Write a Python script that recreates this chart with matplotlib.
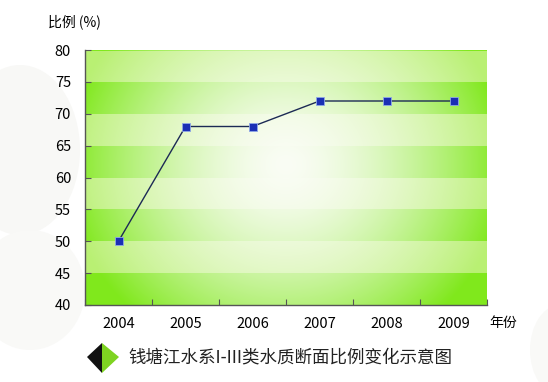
import numpy as np
import matplotlib.pyplot as plt
from matplotlib.patches import Polygon, Ellipse

plt.rcParams['font.family'] = ['Noto Sans CJK SC', 'DejaVu Sans']
plt.rcParams['font.size'] = 10

# data
years = ['2004', '2005', '2006', '2007', '2008', '2009']
ratio = [50, 68, 68, 72, 72, 72]
yticks = [40, 45, 50, 55, 60, 65, 70, 75, 80]
title = '钱塘江水系I-III类水质断面比例变化示意图'

fig = plt.figure(figsize=(5.48, 3.82), dpi=100)
fig.patch.set_facecolor('white')

# faint decorative blobs behind the chart
deco = fig.add_axes([0, 0, 1, 1], zorder=-5)
deco.set_xlim(0, 548)
deco.set_ylim(382, 0)
deco.axis('off')
deco.add_patch(Ellipse((20, 150), 120, 170, color='#f8f8f6', lw=0))
deco.add_patch(Ellipse((30, 290), 110, 120, color='#f9f9f7', lw=0))
deco.add_patch(Ellipse((560, 350), 60, 90, color='#f9f9f7', lw=0))

ax = fig.add_axes([85 / 548, 1 - 305 / 382, 402 / 548, 255 / 382])

# background: radial white glow over alternating green bands
ny, nx = 255, 402
yy, xx = np.mgrid[0:ny, 0:nx]
fx = xx / (nx - 1)
fy = 1 - yy / (ny - 1)
r = np.sqrt(((fx - 0.5) / 0.55) ** 2 + ((fy - 0.55) / 0.8) ** 2)
t = np.clip(r, 0, 1) ** 1.6
val = 40 + 40 * fy
band = (np.floor((val - 40) / 5).astype(int) % 2 == 0)
dark = np.array([128, 232, 28]) / 255
light = np.array([185, 240, 115]) / 255
edge = np.where(band[..., None], dark, light)
img = (1 - t[..., None]) * np.array([0.98, 0.99, 0.96]) + t[..., None] * edge
ax.imshow(img, extent=(-0.5, 5.5, 40, 80), aspect='auto', zorder=0,
          interpolation='bilinear')

x = np.arange(len(years))
ax.plot(x, ratio, color='#1c2a55', lw=1.0, zorder=2)
ax.plot(x, ratio, ls='none', marker='s', ms=6, mfc='#1b2fb5',
        mec='#8fa8e8', mew=0.6, zorder=3)

ax.set_xlim(-0.5, 5.5)
ax.set_ylim(40, 80)
ax.set_yticks(yticks)
ax.set_xticks(np.arange(-0.5, 6, 1))
ax.set_xticklabels([])
ax.set_xticks(x, minor=True)
ax.set_xticklabels(years, minor=True)
ax.tick_params(axis='x', which='minor', length=0, pad=9, labelsize=10.5)
ax.tick_params(axis='x', which='major', direction='in', length=4,
               color='#555555')
ax.tick_params(axis='y', direction='in', length=4, color='#555555',
               pad=10, labelsize=10.5)

for s in ['top', 'right']:
    ax.spines[s].set_visible(False)
for s in ['left', 'bottom']:
    ax.spines[s].set_color('#555555')
    ax.spines[s].set_linewidth(1.0)

fig.text(48 / 548, 1 - 22 / 382, '比例 (%)', fontsize=10, va='center')
fig.text(489 / 548, 1 - 323 / 382, '年份', fontsize=10, va='center')

# title marker and caption
deco.add_patch(Polygon([[87, 357], [102, 343], [102, 373]], closed=True,
                       color='#111111', lw=0))
deco.add_patch(Polygon([[102, 343], [119, 357], [102, 373]], closed=True,
                       color='#7ed321', lw=0))
fig.text(128 / 548, 1 - 357 / 382, title, fontsize=12.6, va='center',
         color='#222222')

fig.savefig('out.png', dpi=100)
